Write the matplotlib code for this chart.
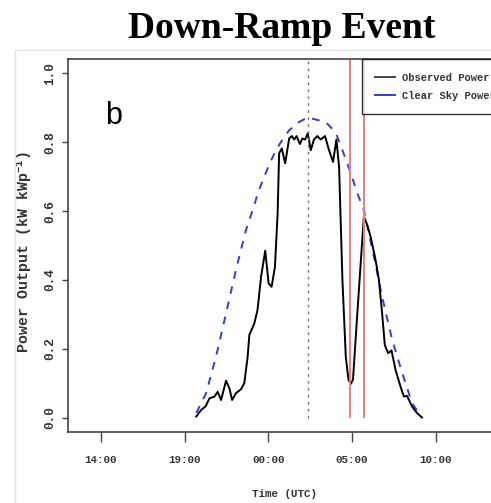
import numpy as np
import matplotlib
matplotlib.use("Agg")
import matplotlib.pyplot as plt
from matplotlib.lines import Line2D
from matplotlib.patches import Rectangle

# time in hours (24 = 00:00 next day), power in kW/kWp
obs_t = [19.70, 19.99, 20.25, 20.49, 20.79, 20.98, 21.18, 21.48, 21.68, 21.84,
         22.07, 22.37, 22.57, 22.77, 22.87, 23.17, 23.36, 23.57, 23.82, 24.02,
         24.20, 24.40, 24.56, 24.65, 24.81, 25.01, 25.25, 25.41, 25.55, 25.69,
         25.89, 26.04, 26.20, 26.36, 26.54, 26.73, 26.93, 27.13, 27.39, 27.63,
         27.87, 28.07, 28.23, 28.43, 28.63, 28.79, 28.93, 29.06, 29.32, 29.52,
         29.71, 29.91, 30.11, 30.41, 30.61, 30.80, 30.96, 31.16, 31.36, 31.60,
         31.90, 32.10, 32.29, 32.59, 32.89, 33.18]
obs_p = [0.003, 0.022, 0.032, 0.056, 0.061, 0.075, 0.051, 0.107, 0.085, 0.051,
         0.071, 0.082, 0.100, 0.177, 0.240, 0.274, 0.313, 0.409, 0.485, 0.390,
         0.380, 0.438, 0.594, 0.768, 0.782, 0.739, 0.811, 0.818, 0.808, 0.818,
         0.795, 0.811, 0.808, 0.826, 0.777, 0.808, 0.818, 0.808, 0.818, 0.777,
         0.743, 0.808, 0.729, 0.400, 0.177, 0.110, 0.098, 0.110, 0.303, 0.448,
         0.584, 0.560, 0.526, 0.458, 0.400, 0.303, 0.211, 0.187, 0.195, 0.139,
         0.090, 0.061, 0.063, 0.032, 0.013, 0.000]

clr_t = [19.70, 20.29, 20.88, 21.48, 22.07, 22.67, 23.07, 23.40, 23.76, 24.10,
         24.46, 24.85, 25.25, 25.85, 26.34, 26.84, 27.43, 28.03, 28.43, 28.93,
         29.32, 29.71, 30.31, 30.80, 31.40, 32.00, 32.59, 32.99]
clr_p = [0.013, 0.071, 0.177, 0.303, 0.429, 0.545, 0.603, 0.655, 0.700, 0.740,
         0.777, 0.808, 0.835, 0.859, 0.872, 0.866, 0.859, 0.828, 0.777, 0.710,
         0.652, 0.603, 0.468, 0.351, 0.226, 0.129, 0.042, 0.013]

noon = 26.38               # solar noon marker
ramp = [28.88, 29.71]      # start / end of the ramp event

xticks = [14, 19, 24, 29, 34]
xlabels = ["14:00", "19:00", "00:00", "05:00", "10:00"]
yticks = [0.0, 0.2, 0.4, 0.6, 0.8, 1.0]

mono = "Liberation Mono"
plt.rcParams["mathtext.fontset"] = "custom"
plt.rcParams["mathtext.rm"] = "Liberation Mono:bold"
plt.rcParams["mathtext.it"] = "Liberation Mono:bold"
plt.rcParams["mathtext.default"] = "rm"

fig = plt.figure(figsize=(4.91, 5.03), dpi=100)
fig.patches.append(Rectangle((15 / 491, -0.1), 1.2, (503 - 50) / 503 + 0.1,
                             transform=fig.transFigure, fill=False,
                             edgecolor="#e2e2e2", lw=1))
ax = fig.add_axes([68 / 491, 71 / 503, 434 / 491, 373 / 503])

ax.plot(clr_t, clr_p, color="#3a3ad6", lw=1.4, ls=(0, (4, 4)))
ax.plot(obs_t, obs_p, color="black", lw=1.4)

top = 1.042
ax.vlines(noon, 0, top, color="#777777", lw=1, ls=(0, (2, 3)))
ax.vlines(ramp, 0, top, color="#e57f7f", lw=1.4)

ax.set_xlim(12.04, 37.96)
ax.set_ylim(-0.042, top)
ax.set_xticks(xticks)
ax.set_xticklabels(xlabels, family=mono, fontsize=7.8, fontweight="bold", color="#333333")
ax.set_yticks(yticks)
ax.set_yticklabels([f"{v:.1f}" for v in yticks], family=mono, fontsize=9.2,
                   fontweight="bold", color="#333333", rotation=90, va="center")
ax.tick_params(width=1, color="#444444")
ax.tick_params(axis="x", length=7, pad=9.5)
ax.tick_params(axis="y", length=4.3, pad=4.5)
for s in ax.spines.values():
    s.set_color("#444444")
    s.set_linewidth(1.2)

ax.set_xlabel("Time (UTC)", family=mono, fontsize=7.8, fontweight="bold",
              color="#333333", labelpad=17)
ax.set_ylabel("Power Output (kW kWp$^{-1}$)", family=mono, fontsize=10.8,
              fontweight="bold", color="#333333", va="center")
ax.yaxis.set_label_coords(-0.101, 0.481)

ax.text(0.105, 0.847, "b", transform=ax.transAxes, family="Liberation Sans",
        fontsize=22, ha="center", va="center")

handles = [Line2D([], [], color="#444444", lw=1.4),
           Line2D([], [], color="#3a3ad6", lw=1.4)]
leg = ax.legend(handles, ["Observed Power", "Clear Sky Power"],
                loc="upper left", bbox_to_anchor=(0.677, 1.0), borderaxespad=0,
                prop={"family": mono, "size": 7.5, "weight": "bold"},
                fancybox=False, handlelength=1.9, handletextpad=0.7,
                labelspacing=0.8, borderpad=1.3)
leg.get_frame().set_edgecolor("black")
leg.get_frame().set_linewidth(1)
for t in leg.get_texts():
    t.set_color("#333333")

fig.text(282 / 491, (503 - 38) / 503, "Down-Ramp Event", family="Liberation Serif",
         fontweight="bold", fontsize=27, ha="center", va="baseline")

fig.savefig("out.png", dpi=100)
